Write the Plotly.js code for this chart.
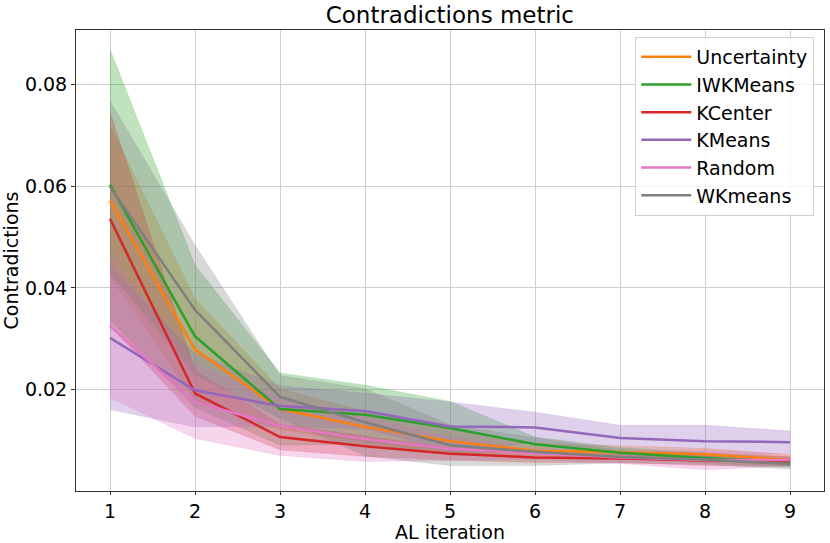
<!DOCTYPE html>
<html>
<head>
<meta charset="utf-8">
<script src="https://cdn.plot.ly/plotly-3.0.1.min.js"></script>
<style>
  body { margin: 0; background: #fff; }
  #chart { width: 830px; height: 543px; }
</style>
</head>
<body>
<div id="chart"></div>
<script>
var iterations = [1, 2, 3, 4, 5, 6, 7, 8, 9];

var methods = ['Uncertainty', 'IWKMeans', 'KCenter', 'KMeans', 'Random', 'WKmeans'];

var uncertaintyMean = [0.0571, 0.0279, 0.0162, 0.0127, 0.0099, 0.0080, 0.0077, 0.0073, 0.0062];
var uncertaintyStd  = [0.0149, 0.0100, 0.0040, 0.0030, 0.0025, 0.0015, 0.0013, 0.0012, 0.0010];

var iwkmeansMean = [0.0603, 0.0305, 0.0162, 0.0151, 0.0125, 0.0093, 0.0076, 0.0066, 0.0058];
var iwkmeansStd  = [0.0266, 0.0140, 0.0071, 0.0058, 0.0052, 0.0014, 0.0010, 0.0010, 0.0010];

var kcenterMean = [0.0536, 0.0193, 0.0107, 0.0089, 0.0074, 0.0067, 0.0065, 0.0061, 0.0060];
var kcenterStd  = [0.0210, 0.0045, 0.0025, 0.0020, 0.0012, 0.0010, 0.0008, 0.0010, 0.0010];

var kmeansMean = [0.0302, 0.0199, 0.0168, 0.0158, 0.0128, 0.0126, 0.0105, 0.0099, 0.0097];
var kmeansStd  = [0.0141, 0.0072, 0.0040, 0.0035, 0.0048, 0.0030, 0.0025, 0.0031, 0.0022];

var randomMean = [0.0325, 0.0176, 0.0129, 0.0103, 0.0084, 0.0075, 0.0067, 0.0062, 0.0062];
var randomStd  = [0.0140, 0.0072, 0.0058, 0.0044, 0.0023, 0.0012, 0.0012, 0.0019, 0.0012];

var wkmeansMean = [0.0599, 0.0357, 0.0186, 0.0136, 0.0091, 0.0078, 0.0068, 0.0063, 0.0054];
var wkmeansStd  = [0.0169, 0.0127, 0.0042, 0.0066, 0.0040, 0.0027, 0.0012, 0.0010, 0.0010];

var colors = ['#ff7f0e', '#2ca02c', '#d62728', '#9467bd', '#e377c2', '#7f7f7f'];
var fills = ['rgba(255,127,14,0.3)', 'rgba(44,160,44,0.3)', 'rgba(214,39,40,0.3)',
             'rgba(148,103,189,0.3)', 'rgba(227,119,194,0.3)', 'rgba(127,127,127,0.3)'];

var means = [uncertaintyMean, iwkmeansMean, kcenterMean, kmeansMean, randomMean, wkmeansMean];
var stds = [uncertaintyStd, iwkmeansStd, kcenterStd, kmeansStd, randomStd, wkmeansStd];

var font = 'DejaVu Sans, sans-serif';

var bands = [];
var lines = [];
for (var i = 0; i < methods.length; i++) {
    var m = means[i], s = stds[i];
    var upper = m.map(function (v, k) { return v + s[k]; });
    var lower = m.map(function (v, k) { return v - s[k]; });
    bands.push({
        x: iterations.concat(iterations.slice().reverse()),
        y: upper.concat(lower.slice().reverse()),
        type: 'scatter',
        mode: 'lines',
        fill: 'toself',
        fillcolor: fills[i],
        line: {color: fills[i], width: 0.5},
        hoverinfo: 'skip',
        showlegend: false
    });
    lines.push({
        x: iterations,
        y: m,
        type: 'scatter',
        mode: 'lines',
        name: methods[i],
        line: {color: colors[i], width: 2.5}
    });
}

var layout = {
    width: 830,
    height: 543,
    margin: {l: 76, r: 6, t: 30, b: 52},
    paper_bgcolor: '#fff',
    plot_bgcolor: '#fff',
    font: {family: font, size: 19, color: '#000'},
    title: {text: 'Contradictions metric', font: {family: font, size: 23}, x: 0.542, xanchor: 'center', y: 0.972, yanchor: 'middle'},
    xaxis: {
        title: {text: 'AL iteration', font: {size: 19}, standoff: 0},
        range: [0.6, 9.4],
        tickvals: iterations,
        ticks: 'outside', ticklen: 3, tickcolor: '#333',
        showgrid: true, gridcolor: '#cfcfcf', gridwidth: 1,
        showline: true, linecolor: '#333', linewidth: 1, mirror: true,
        zeroline: false, automargin: false
    },
    yaxis: {
        title: {text: 'Contradictions', font: {size: 19}, standoff: 4},
        range: [0.0001, 0.0907],
        tickvals: [0.02, 0.04, 0.06, 0.08],
        tickformat: '.2f',
        ticks: 'outside', ticklen: 4, tickcolor: '#333',
        showgrid: true, gridcolor: '#cfcfcf', gridwidth: 1,
        showline: true, linecolor: '#333', linewidth: 1, mirror: true,
        zeroline: false, automargin: false
    },
    legend: {
        x: 0.987, xanchor: 'right', y: 0.985, yanchor: 'top',
        bgcolor: 'rgba(255,255,255,0.8)', bordercolor: '#d0d0d0', borderwidth: 1,
        itemwidth: 50,
        font: {family: font, size: 19}
    },
    showlegend: true
};

Plotly.newPlot('chart', bands.concat(lines), layout, {displayModeBar: false, staticPlot: true});
</script>
</body>
</html>
